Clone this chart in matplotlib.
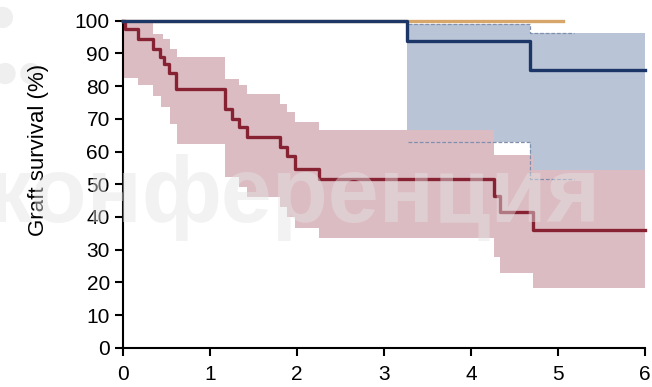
import matplotlib
matplotlib.use("Agg")
import matplotlib.pyplot as plt
from matplotlib.patches import Ellipse

# group 1 (dark red) Kaplan-Meier curve
red_t = [0, 0.02, 0.17, 0.35, 0.42, 0.47, 0.53, 0.61, 1.17, 1.25, 1.33, 1.42,
         1.81, 1.89, 1.98, 2.25, 4.27, 4.33, 4.71, 6.0]
red_s = [100, 97.3, 94.4, 91.4, 88.8, 86.6, 84.0, 79.0, 73.0, 70.0, 67.4, 64.4,
         61.4, 58.5, 54.8, 51.5, 46.5, 41.6, 36.0, 36.0]

# group 1 confidence band
red_ci_t = [0, 0.17, 0.35, 0.44, 0.46, 0.54, 0.62, 1.17, 1.33, 1.42, 1.81, 1.89,
            1.98, 2.25, 4.27, 4.33, 4.71, 6.0]
red_hi = [100, 100, 95.9, 95.9, 94.4, 91.4, 88.8, 82.2, 80.2, 77.6, 74.6, 72.0,
          69.0, 66.5, 58.8, 58.8, 54.3, 54.3]
red_lo = [82.5, 80.2, 77.1, 73.6, 73.6, 68.5, 62.4, 52.2, 49.2, 46.1, 43.1, 40.0,
          36.5, 33.7, 27.8, 22.8, 18.2, 18.2]

# group 2 (navy)
blue_t = [0, 3.27, 4.68, 6.0]
blue_s = [100, 93.7, 85.0, 85.0]
blue_ci_t = [3.27, 4.68, 6.0]
blue_hi = [99.0, 96.1, 96.1]
blue_lo = [62.9, 51.7, 51.7]

# group 3 (tan), no events
tan_t = [0, 5.06]
tan_s = [100, 100]

# dashed interval lines
dash_t = [3.28, 4.68, 5.18]
dash_hi = [99.0, 96.1, 96.1]
dash_lo = [62.9, 51.7, 51.7]

x_ticks = [0, 1, 2, 3, 4, 5, 6]
y_ticks = [0, 10, 20, 30, 40, 50, 60, 70, 80, 90, 100]

plt.rcParams['font.family'] = ['Liberation Sans', 'DejaVu Sans']

fig = plt.figure(figsize=(6.52, 3.87), dpi=100)
ax = fig.add_axes([0.1887, 0.1008, 0.8003, 0.8462])

ax.fill_between(blue_ci_t, blue_hi, blue_lo, step='post', color='#b9c4d6', lw=0, zorder=1)
ax.fill_between(red_ci_t, red_hi, red_lo, step='post', color='#dcbcc3', lw=0, zorder=2)

ax.step(dash_t, dash_hi, where='post', color='#7f8fae', lw=0.9, ls=(0, (3, 1.5)), zorder=3)
ax.step(dash_t, dash_lo, where='post', color='#7f8fae', lw=0.9, ls=(0, (3, 1.5)), zorder=3)

ax.step(tan_t, tan_s, where='post', color='#d6a66a', lw=2.4, zorder=4, clip_on=False)
ax.step(red_t, red_s, where='post', color='#872233', lw=2.4, zorder=5, clip_on=False)
ax.step(blue_t, blue_s, where='post', color='#1c3668', lw=2.4, zorder=6, clip_on=False)

# faint watermark from the source image
fig.text(0.45, 0.49, 'конференция', fontsize=66, fontweight='bold', color='#e4e4e4',
         alpha=0.45, ha='center', va='center', zorder=10)
for cx, cy in [(0.004, 0.955), (0.008, 0.81), (0.047, 0.81)]:
    fig.patches.append(Ellipse((cx, cy), 0.032, 0.055, transform=fig.transFigure,
                               color='#efefef', lw=0, zorder=-1))

ax.set_xlim(0, 6)
ax.set_ylim(0, 100)
ax.set_xticks(x_ticks)
ax.set_yticks(y_ticks)
ax.tick_params(direction='out', length=6, width=1.5, labelsize=15, color='black')
ax.tick_params(axis='x', pad=6)
ax.spines['top'].set_visible(False)
ax.spines['right'].set_visible(False)
ax.spines['left'].set_linewidth(1.5)
ax.spines['bottom'].set_linewidth(1.5)
ax.set_ylabel('Graft survival (%)', fontsize=16)
ax.yaxis.set_label_coords(-0.142, 0.604)

fig.savefig('out.png', dpi=100)
